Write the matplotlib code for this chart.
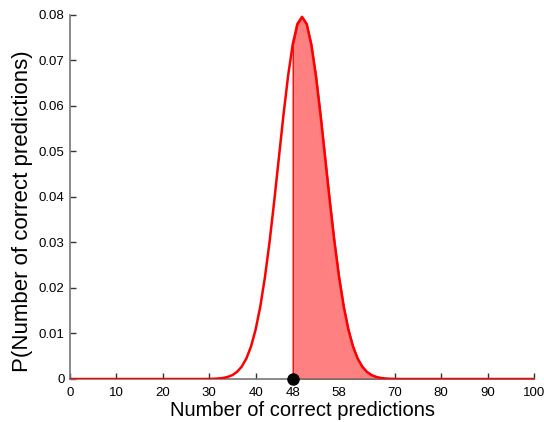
import numpy as np
import matplotlib.pyplot as plt

plt.rcParams['font.family'] = ['Liberation Sans', 'DejaVu Sans']

# number of correct predictions (0..100) and probability
n_correct = np.arange(0, 101)
prob = [0.0] * 30 + [
    0.00002, 0.00005, 0.00011, 0.00023, 0.00046, 0.00086, 0.00157, 0.00271,
    0.00448, 0.00711, 0.01084, 0.01587, 0.02229, 0.03007, 0.03895, 0.04847,
    0.05796, 0.06659, 0.07353, 0.07803, 0.07959, 0.07803, 0.07353, 0.06659,
    0.05796, 0.04847, 0.03895, 0.03007, 0.02229, 0.01587, 0.01084, 0.00711,
    0.00448, 0.00271, 0.00157, 0.00086, 0.00046, 0.00023, 0.00011, 0.00005,
    0.00002,
] + [0.0] * 30
prob = np.array(prob)

observed = 48
xtick_vals = [0, 10, 20, 30, 40, 48, 58, 70, 80, 90, 100]
ytick_vals = [0, 0.01, 0.02, 0.03, 0.04, 0.05, 0.06, 0.07, 0.08]
ytick_labels = ['0', '0.01', '0.02', '0.03', '0.04', '0.05', '0.06', '0.07', '0.08']

fig = plt.figure(figsize=(5.44, 4.22), dpi=100)
ax = fig.add_axes([0.1287, 0.1019, 0.8529, 0.8626])

# shaded tail from the observed value upwards
tail = n_correct >= observed
ax.fill_between(n_correct[tail], 0, prob[tail], facecolor='#ff8080',
                edgecolor='red', linewidth=1.0, zorder=2)
ax.plot(n_correct, prob, color='red', linewidth=1.8, zorder=3)
ax.plot([observed], [0], 'o', color='black', markersize=8, clip_on=False, zorder=5)

ax.set_xlim(0, 100)
ax.set_ylim(0, 0.08)
ax.set_xticks(xtick_vals)
ax.set_xticklabels([str(v) for v in xtick_vals])
ax.set_yticks(ytick_vals)
ax.set_yticklabels(ytick_labels)

for s in ['top', 'right']:
    ax.spines[s].set_visible(False)
for s in ['left', 'bottom']:
    ax.spines[s].set_color('#777777')
    ax.spines[s].set_linewidth(1.2)

ax.tick_params(direction='in', length=4, width=1, color='#333333',
               labelsize=9.5)
ax.tick_params(axis='x', pad=6)
ax.tick_params(axis='y', pad=4)

ax.set_xlabel('Number of correct predictions', fontsize=14.5, labelpad=1)
ax.set_ylabel('P(Number of correct predictions)', fontsize=16)
ax.yaxis.set_label_coords(-0.08, 0.46)

fig.savefig('out.png', dpi=100)
